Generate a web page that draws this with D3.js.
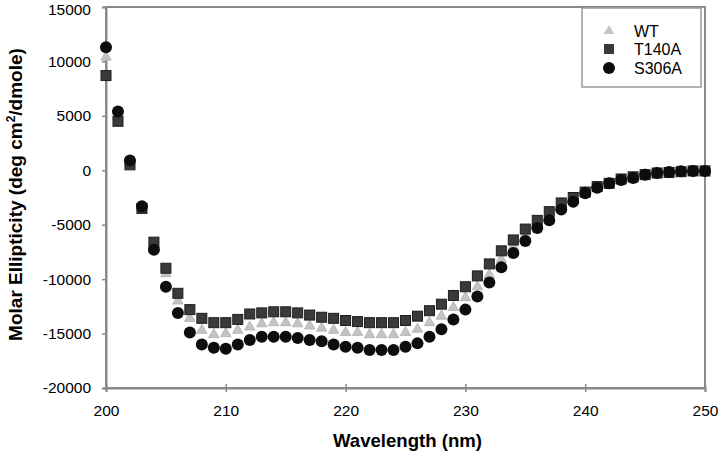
<!DOCTYPE html>
<html><head><meta charset="utf-8">
<script src="https://cdn.jsdelivr.net/npm/d3@7"></script>
<style>body{margin:0;background:#fff}svg{display:block}text{font-family:"Liberation Sans",Arial,sans-serif}</style>
</head><body>
<svg id="c" width="720" height="454"></svg>
<script>
const wavelengths = d3.range(200, 251);
const WT = [10400,5000,700,-3400,-7000,-9500,-12000,-13600,-14700,-15100,-15000,-14700,-14400,-14100,-14000,-14000,-14100,-14300,-14500,-14700,-14900,-14900,-15100,-15100,-15100,-14900,-14600,-14000,-13400,-12600,-11700,-10700,-9600,-8200,-7000,-6000,-5000,-4200,-3300,-2700,-2000,-1550,-1200,-850,-650,-400,-250,-170,-120,-60,-60];
const T140A = [8700,4500,500,-3500,-6600,-9000,-11300,-12800,-13600,-14000,-14000,-13700,-13200,-13100,-13000,-13000,-13100,-13300,-13500,-13600,-13800,-13900,-14000,-14000,-14000,-13800,-13400,-12900,-12300,-11500,-10700,-9700,-8600,-7400,-6400,-5400,-4600,-3800,-3000,-2500,-2000,-1500,-1200,-800,-600,-400,-250,-200,-130,-60,-60];
const S306A = [11300,5400,900,-3300,-7300,-10700,-13100,-14900,-16000,-16300,-16400,-16000,-15600,-15300,-15300,-15300,-15400,-15600,-15700,-16000,-16200,-16300,-16500,-16500,-16500,-16200,-15900,-15300,-14600,-13700,-12800,-11600,-10300,-8900,-7600,-6500,-5300,-4600,-3600,-2900,-2100,-1600,-1200,-900,-700,-400,-250,-150,-100,-60,-60];
const xTicks = [200,210,220,230,240,250];
const yTicks = [15000,10000,5000,0,-5000,-10000,-15000,-20000];
const seriesNames = ["WT","T140A","S306A"];

const svg = d3.select("#c");
const L=106, R=705, T=7, B=388;
const x = d3.scaleLinear().domain([200,250]).range([L,R]);
const y = d3.scaleLinear().domain([-20000,15000]).range([B,T]);
const axisColor = "#8a8a8a";

// frame
svg.append("rect").attr("x",L).attr("y",T).attr("width",R-L).attr("height",B-T)
  .attr("fill","none").attr("stroke",axisColor).attr("stroke-width",2);

const yAxis = svg.append("g").attr("transform",`translate(${L},0)`)
  .call(d3.axisLeft(y).tickValues(yTicks).tickSize(4).tickPadding(11).tickFormat(d=>d<0?"-"+Math.abs(d):String(d)));
yAxis.select(".domain").attr("stroke",axisColor).attr("stroke-width",2);
yAxis.selectAll(".tick line").attr("stroke",axisColor).attr("stroke-width",1.5);
yAxis.selectAll("text").attr("font-size",15.5).attr("fill","#000");
yAxis.selectAll(".tick").filter(d=>d===15000).select("text").attr("dy","0.36em").attr("y",1.5);

const xAxis = svg.append("g").attr("transform",`translate(0,${B})`)
  .call(d3.axisBottom(x).tickValues(xTicks).tickSize(4).tickPadding(13));
xAxis.select(".domain").attr("stroke",axisColor).attr("stroke-width",2);
xAxis.selectAll(".tick line").attr("stroke",axisColor).attr("stroke-width",1.5).attr("y1",-4);
xAxis.selectAll("text").attr("font-size",15.5).attr("fill","#000");

// titles
svg.append("text").attr("x",(L+R)/2+2).attr("y",447).attr("text-anchor","middle")
  .attr("font-size",18.6).attr("font-weight","bold").attr("fill","#000").text("Wavelength (nm)");
const yt = svg.append("text").attr("transform",`translate(22,${(T+B)/2-3}) rotate(-90)`)
  .attr("text-anchor","middle").attr("font-size",19).attr("font-weight","bold").attr("fill","#000");
yt.append("tspan").text("Molar Ellipticity (deg cm");
yt.append("tspan").attr("font-size",12).attr("dy",-7).text("2");
yt.append("tspan").attr("dy",7).text("/dmole)");

// markers
const tri = d3.symbol().type(d3.symbolTriangle).size(48);
const g = svg.append("g");
const wt = wavelengths.map((w,i)=>({w,v:WT[i]}));
const t1 = wavelengths.map((w,i)=>({w,v:T140A[i]}));
const s3 = wavelengths.map((w,i)=>({w,v:S306A[i]}));
g.selectAll(".wt").data(wt).join("path").attr("class","wt")
  .attr("d",tri).attr("transform",d=>`translate(${x(d.w)},${y(d.v)})`)
  .attr("fill","#c4c4c4").attr("stroke","#b0b0b0").attr("stroke-width",0.8);
g.selectAll(".t1").data(t1).join("rect").attr("class","t1")
  .attr("x",d=>x(d.w)-5).attr("y",d=>y(d.v)-5).attr("width",10).attr("height",10)
  .attr("fill","#3a3a3a").attr("stroke","#1e1e1e").attr("stroke-width",1);
g.selectAll(".s3").data(s3).join("circle").attr("class","s3")
  .attr("cx",d=>x(d.w)).attr("cy",d=>y(d.v)).attr("r",6).attr("fill","#0d0d0d");

// legend
const lg = svg.append("g");
lg.append("rect").attr("x",582).attr("y",8).attr("width",119).attr("height",79)
  .attr("fill","#fff").attr("stroke","#9a9a9a").attr("stroke-width",1.5);
const ly = [31,49,68];
seriesNames.forEach((n,i)=>{
  const cx=609, cy=ly[i];
  if(i===0) lg.append("path").attr("d",tri).attr("transform",`translate(${cx},${cy})`).attr("fill","#c4c4c4");
  if(i===1) lg.append("rect").attr("x",cx-5).attr("y",cy-5).attr("width",10).attr("height",10).attr("fill","#3a3a3a");
  if(i===2) lg.append("circle").attr("cx",cx).attr("cy",cy).attr("r",6).attr("fill","#0d0d0d");
  lg.append("text").attr("x",634).attr("y",cy+5.5).attr("font-size",16).attr("fill","#000").text(n);
});
</script>
</body></html>
